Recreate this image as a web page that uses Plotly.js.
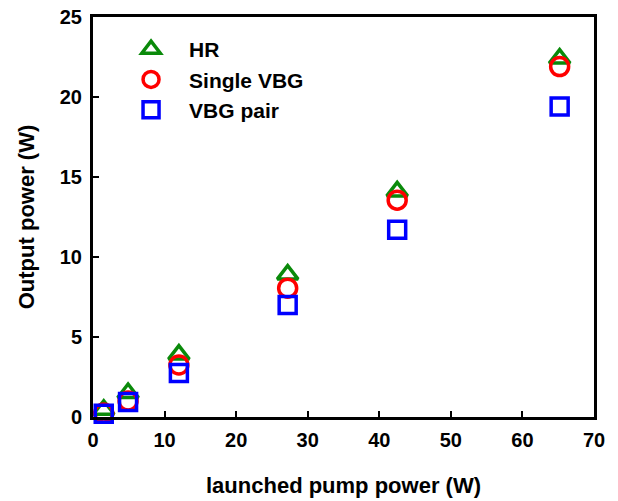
<!DOCTYPE html>
<html>
<head>
<meta charset="utf-8">
<script src="https://cdn.plot.ly/plotly-3.0.1.min.js"></script>
<style>html,body{margin:0;padding:0;background:#fff;}#chart{width:618px;height:501px;}</style>
</head>
<body>
<div id="chart"></div>
<script>
// launched pump power (W)
const pumpPower = [1.5, 4.9, 12.0, 27.2, 42.5, 65.2];
// output power (W)
const hrPower = [0.45, 1.5, 3.9, 8.9, 14.1, 22.4];
const singleVbgPower = [0.25, 1.0, 3.25, 8.05, 13.55, 21.9];
const vbgPairPower = [0.2, 0.94, 2.75, 7.0, 11.7, 19.4];
const seriesNames = ["HR", "Single VBG", "VBG pair"];
const xTicks = [0, 10, 20, 30, 40, 50, 60, 70];
const yTicks = [0, 5, 10, 15, 20, 25];

const FONT = "Liberation Sans, Arial, sans-serif";
function tr(y, name, color, symbol, size) {
  return {
    x: pumpPower, y: y, name: name, type: "scatter", mode: "markers",
    marker: {symbol: symbol, size: size, color: color, line: {color: color, width: 3.5}},
    cliponaxis: false
  };
}
const data = [
  tr(hrPower, seriesNames[0], "#0a8a0a", "triangle-up-open", 18),
  tr(singleVbgPower, seriesNames[1], "#ff0000", "circle-open", 18),
  tr(vbgPairPower, seriesNames[2], "#0000ff", "square-open", 17)
];
const axisCommon = {
  showline: true, linecolor: "#000", linewidth: 3, mirror: true,
  ticks: "inside", ticklen: 6, tickwidth: 2, tickcolor: "#000",
  showgrid: false, zeroline: false,
  tickfont: {family: FONT, size: 20, color: "#000", weight: "bold"}
};
const layout = {
  width: 618, height: 501,
  margin: {l: 93, r: 24, t: 17, b: 84},
  paper_bgcolor: "#fff", plot_bgcolor: "#fff",
  showlegend: true,
  legend: {
    x: 0.04, y: 0.97, xanchor: "left", yanchor: "top",
    bgcolor: "rgba(0,0,0,0)", borderwidth: 0,
    font: {family: FONT, size: 21, color: "#000", weight: "bold"},
    itemwidth: 66, tracegroupgap: 0
  },
  xaxis: Object.assign({}, axisCommon, {
    range: [0, 70], tickvals: xTicks, ticktext: xTicks.map(String),
    ticklabelstandoff: 3,
    title: {text: "launched pump power (W)", standoff: 28,
      font: {family: FONT, size: 22, color: "#000", weight: "bold"}}
  }),
  yaxis: Object.assign({}, axisCommon, {
    range: [0, 25], tickvals: yTicks, ticktext: yTicks.map(String),
    ticklabelstandoff: 4,
    title: {text: "Output power (W)", standoff: 20,
      font: {family: FONT, size: 22, color: "#000", weight: "bold"}}
  })
};
Plotly.newPlot("chart", data, layout, {displayModeBar: false, staticPlot: true});
</script>
</body>
</html>
